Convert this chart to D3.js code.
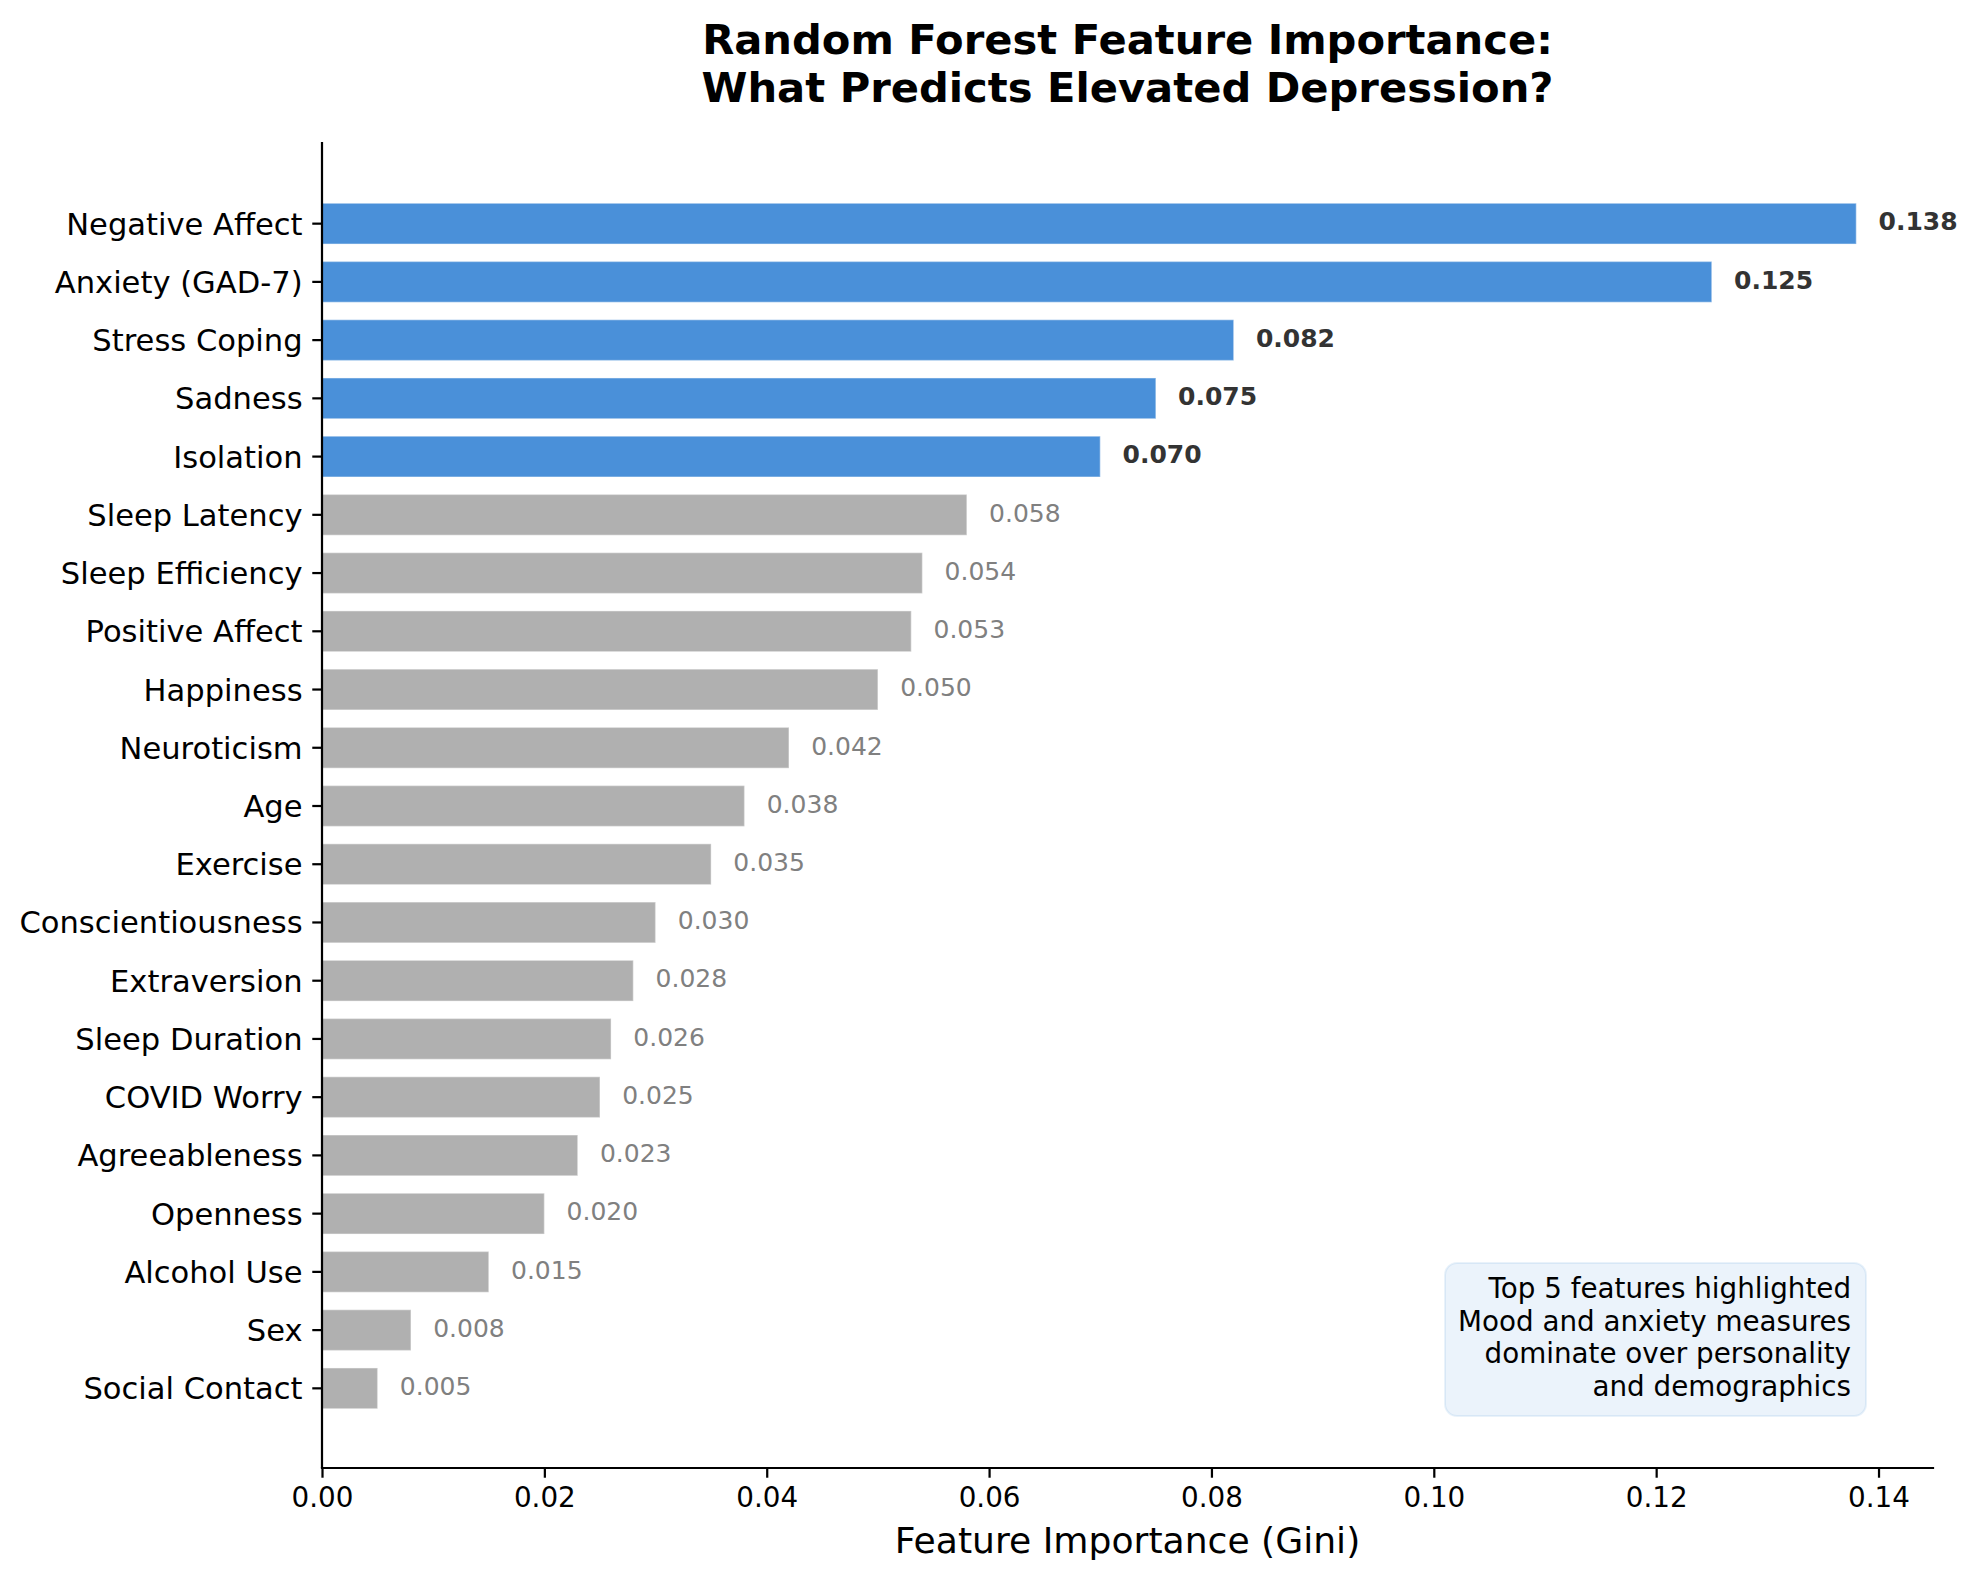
<!DOCTYPE html>
<html>
<head>
<meta charset="utf-8">
<script src="https://cdn.jsdelivr.net/npm/d3@7"></script>
<style>
  body { margin: 0; background: #fff; }
  text { font-family: "DejaVu Sans", sans-serif; }
</style>
</head>
<body>
<div id="chart"></div>
<script>
// feature names, top to bottom
const features = ["Negative Affect", "Anxiety (GAD-7)", "Stress Coping", "Sadness", "Isolation",
  "Sleep Latency", "Sleep Efficiency", "Positive Affect", "Happiness", "Neuroticism", "Age",
  "Exercise", "Conscientiousness", "Extraversion", "Sleep Duration", "COVID Worry",
  "Agreeableness", "Openness", "Alcohol Use", "Sex", "Social Contact"]
const importance = [0.138, 0.125, 0.082, 0.075, 0.070, 0.058, 0.054, 0.053, 0.050, 0.042, 0.038,
  0.035, 0.030, 0.028, 0.026, 0.025, 0.023, 0.020, 0.015, 0.008, 0.005]
const xTicks = [0, 0.02, 0.04, 0.06, 0.08, 0.10, 0.12, 0.14]
const titleLines = ["Random Forest Feature Importance:", "What Predicts Elevated Depression?"]
const noteLines = ["Top 5 features highlighted", "Mood and anxiety measures",
  "dominate over personality", "and demographics"]
const topN = 5

const W = 1976, H = 1581
var margin = {top: 142, right: 43, bottom: 113, left: 322},
    width = W - margin.left - margin.right,
    height = H - margin.top - margin.bottom;

const pt = 200 / 72  // px per point

var svg = d3.select("#chart").append("svg")
    .attr("width", W)
    .attr("height", H)
svg.append("rect").attr("width", W).attr("height", H).attr("fill", "#fff")

var g = svg.append("g")
    .attr("transform", "translate(" + margin.left + "," + margin.top + ")")

var x = d3.scaleLinear()
  .domain([0, d3.max(importance) * 1.05])
  .range([0, width])

var y = d3.scaleBand()
  .domain(features)
  .range([1, height + 1])
  .paddingInner(0.3)
  .paddingOuter(1.035)

// bars
g.selectAll("rect.bar")
  .data(features)
  .enter()
  .append("rect")
    .attr("class", "bar")
    .attr("x", x(0))
    .attr("y", function(d) { return y(d) })
    .attr("width", function(d, i) { return x(importance[i]) - x(0) })
    .attr("height", y.bandwidth())
    .attr("fill", function(d, i) { return i < topN ? "#4A90D9" : "#B0B0B0" })
    .attr("stroke", "#fff")
    .attr("stroke-width", 0.5 * pt)
    .attr("stroke-opacity", 0.35)

// value labels
g.selectAll("text.val")
  .data(features)
  .enter()
  .append("text")
    .attr("class", "val")
    .attr("x", function(d, i) { return x(importance[i] + 0.002) })
    .attr("y", function(d) { return y(d) + y.bandwidth() / 2 })
    .attr("dy", "0.27em")
    .attr("font-size", 9 * pt)
    .attr("font-weight", function(d, i) { return i < topN ? "bold" : "normal" })
    .attr("fill", function(d, i) { return i < topN ? "#333333" : "#808080" })
    .text(function(d, i) { return importance[i].toFixed(3) })

// axes
var yAxis = g.append("g")
  .call(d3.axisLeft(y).tickSize(3.5 * pt).tickPadding(3.5 * pt).tickSizeOuter(0))
yAxis.select(".domain").remove()
yAxis.selectAll(".tick line").attr("stroke", "#000").attr("stroke-width", 0.8 * pt)
yAxis.selectAll(".tick text").attr("font-size", 11 * pt).attr("fill", "#000")
  .attr("dy", "0.36em")
  .style("font-family", "'DejaVu Sans', sans-serif")

var xAxis = g.append("g")
  .attr("transform", "translate(0," + height + ")")
  .call(d3.axisBottom(x).tickValues(xTicks).tickFormat(d3.format(".2f"))
    .tickSize(3.5 * pt).tickPadding(3.5 * pt).tickSizeOuter(0))
xAxis.select(".domain").remove()
xAxis.selectAll(".tick line").attr("stroke", "#000").attr("stroke-width", 0.8 * pt)
xAxis.selectAll(".tick text").attr("font-size", 10 * pt).attr("fill", "#000")
  .style("font-family", "'DejaVu Sans', sans-serif")

// spines (left + bottom only)
g.append("line").attr("x1", 0).attr("x2", 0).attr("y1", 0).attr("y2", height)
  .attr("stroke", "#000").attr("stroke-width", 0.8 * pt)
g.append("line").attr("x1", 0).attr("x2", width).attr("y1", height).attr("y2", height)
  .attr("stroke", "#000").attr("stroke-width", 0.8 * pt).attr("stroke-linecap", "square")

// x label
g.append("text")
  .attr("x", width / 2)
  .attr("y", height + 85)
  .attr("text-anchor", "middle")
  .attr("font-size", 13 * pt)
  .text("Feature Importance (Gini)")

// title
svg.selectAll("text.title")
  .data(titleLines)
  .enter()
  .append("text")
    .attr("class", "title")
    .attr("x", margin.left + width / 2)
    .attr("y", function(d, i) { return 53.5 + i * 48 })
    .attr("text-anchor", "middle")
    .attr("font-size", 15 * pt)
    .attr("font-weight", "bold")
    .text(function(d) { return d })

// note box, lower right
var note = svg.append("g")
note.append("rect")
  .attr("x", 1445).attr("y", 1263)
  .attr("width", 421).attr("height", 153)
  .attr("rx", 12)
  .attr("fill", "#4A90D9").attr("fill-opacity", 0.11)
  .attr("stroke", "#4A90D9").attr("stroke-opacity", 0.12).attr("stroke-width", 2)
note.selectAll("text")
  .data(noteLines)
  .enter()
  .append("text")
    .attr("x", 1851)
    .attr("y", function(d, i) { return 1298 + i * 32.6 })
    .attr("text-anchor", "end")
    .attr("font-size", 10 * pt)
    .text(function(d) { return d })
</script>
</body>
</html>
